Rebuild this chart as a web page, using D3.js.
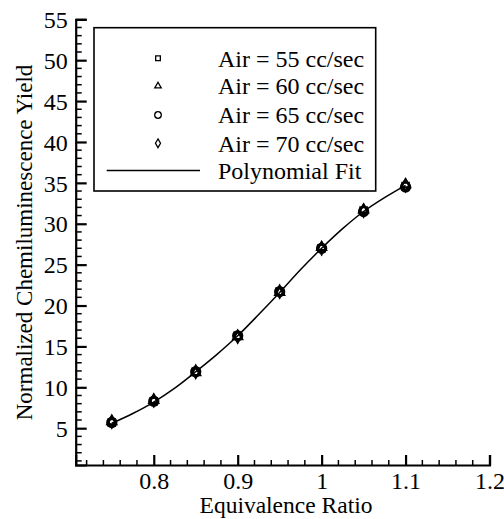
<!DOCTYPE html>
<html>
<head>
<meta charset="utf-8">
<script src="https://cdn.jsdelivr.net/npm/d3@7"></script>
<style>
  body { margin: 0; background: #fff; }
  svg { display: block; }
  text { font-family: "Liberation Serif", "Times New Roman", serif; fill: #000; }
</style>
</head>
<body>
<div id="chart"></div>
<script>
// Equivalence ratio at which yields were measured
const phi = [0.75, 0.8, 0.85, 0.9, 0.95, 1.0, 1.05, 1.1];

// Normalized chemiluminescence yield, one array per air flow
const air55 = [5.7, 8.3, 11.9, 16.3, 21.7, 27.0, 31.6, 34.6];
const air60 = [5.8, 8.4, 11.8, 16.2, 21.6, 27.1, 31.7, 34.8];
const air65 = [5.7, 8.3, 11.9, 16.3, 21.7, 27.0, 31.5, 34.5];
const air70 = [5.8, 8.4, 11.9, 16.2, 21.7, 27.0, 31.6, 34.7];

// Polynomial fit
const fitX = [0.75, 0.775, 0.8, 0.825, 0.85, 0.875, 0.9, 0.925, 0.95, 0.975, 1.0, 1.025, 1.05, 1.075, 1.1];
const fitY = [5.6, 6.8, 8.2, 9.9, 11.9, 14.0, 16.3, 18.9, 21.6, 24.4, 27.0, 29.4, 31.5, 33.2, 34.7];

const xTicks = [0.8, 0.9, 1.0, 1.1, 1.2];
const yTicks = [5, 10, 15, 20, 25, 30, 35, 40, 45, 50, 55];

const seriesNames = ['Air = 55 cc/sec', 'Air = 60 cc/sec', 'Air = 65 cc/sec', 'Air = 70 cc/sec'];
const seriesValues = [air55, air60, air65, air70];

(function () {
    const seriesSymbols = [d3.symbolSquare, d3.symbolTriangle, d3.symbolCircle, d3.symbolDiamond];
    const symbolSizes = [22, 18, 34, 22];

    const width = 504, height = 519;
    const mLeft = 75.7, mRight = 489.5, mTop = 19.3, mBottom = 465;

    const svg = d3.select('#chart').append('svg')
        .attr('width', width)
        .attr('height', height);

    const x = d3.scaleLinear().domain([0.707, 1.2]).range([mLeft, mRight]);
    const y = d3.scaleLinear().domain([0.5, 55]).range([mBottom, mTop]);

    // Minor ticks (inward)
    const xMinor = d3.range(0.72, 1.2001, 0.02).filter(v => !xTicks.some(t => Math.abs(t - v) < 1e-6));
    const yMinor = d3.range(1, 55.001, 1).filter(v => v % 5 !== 0);

    svg.append('g').selectAll('line').data(xMinor).join('line')
        .attr('x1', d => x(d)).attr('x2', d => x(d))
        .attr('y1', mBottom).attr('y2', mBottom - 5)
        .attr('stroke', '#000').attr('stroke-width', 1.5);

    svg.append('g').selectAll('line').data(yMinor).join('line')
        .attr('y1', d => y(d)).attr('y2', d => y(d))
        .attr('x1', mLeft).attr('x2', mLeft + 6)
        .attr('stroke', '#000').attr('stroke-width', 1.5);

    // Major axes
    const xAxis = svg.append('g')
        .attr('transform', `translate(0,${mBottom})`)
        .call(d3.axisBottom(x).tickValues(xTicks).tickSize(-10).tickPadding(7)
            .tickFormat(d => String(+d.toFixed(1))));
    const yAxis = svg.append('g')
        .attr('transform', `translate(${mLeft},0)`)
        .call(d3.axisLeft(y).tickValues(yTicks).tickSize(-11).tickPadding(8));

    [xAxis, yAxis].forEach(a => {
        a.attr('font-family', null);
        a.select('.domain').attr('stroke-width', 2.2);
        a.selectAll('.tick line').attr('stroke-width', 2.2);
        a.selectAll('.tick text').attr('font-size', 24);
    });
    yAxis.selectAll('.tick text').attr('dy', '0.34em');

    // Axis titles
    svg.append('text')
        .attr('x', 286)
        .attr('y', 513)
        .attr('text-anchor', 'middle')
        .attr('font-size', 23.5)
        .text('Equivalence Ratio');

    svg.append('text')
        .attr('transform', `translate(32,242.5) rotate(-90)`)
        .attr('text-anchor', 'middle')
        .attr('font-size', 23)
        .text('Normalized Chemiluminescence Yield');

    // Fit curve
    const fitPts = fitX.map((v, i) => [v, fitY[i]]);
    svg.append('path')
        .datum(fitPts)
        .attr('fill', 'none')
        .attr('stroke', '#000')
        .attr('stroke-width', 1.5)
        .attr('d', d3.line().x(d => x(d[0])).y(d => y(d[1])).curve(d3.curveMonotoneX));

    // Data markers
    seriesValues.forEach((vals, s) => {
        svg.append('g').selectAll('path').data(vals).join('path')
            .attr('transform', (d, i) => `translate(${x(phi[i])},${y(d)})`)
            .attr('d', d3.symbol().type(seriesSymbols[s]).size(symbolSizes[s] * 2))
            .attr('fill', 'none')
            .attr('stroke', '#000')
            .attr('stroke-width', 2);
    });

    // Legend
    const legend = svg.append('g');
    legend.append('rect')
        .attr('x', 94).attr('y', 27.7)
        .attr('width', 281.7).attr('height', 163.3)
        .attr('fill', '#fff')
        .attr('stroke', '#000')
        .attr('stroke-width', 1.6);

    const rowY = [58.3, 86, 115, 143.3, 170.5];
    seriesNames.forEach((name, s) => {
        legend.append('path')
            .attr('transform', `translate(158,${rowY[s]})`)
            .attr('d', d3.symbol().type(seriesSymbols[s]).size(symbolSizes[s]))
            .attr('fill', 'none')
            .attr('stroke', '#000')
            .attr('stroke-width', 1.3);
        legend.append('text')
            .attr('x', 218).attr('y', rowY[s])
            .attr('dy', '0.35em')
            .attr('font-size', 24)
            .text(name);
    });
    legend.append('line')
        .attr('x1', 106.7).attr('x2', 200)
        .attr('y1', rowY[4]).attr('y2', rowY[4])
        .attr('stroke', '#000').attr('stroke-width', 1.5);
    legend.append('text')
        .attr('x', 218).attr('y', rowY[4])
        .attr('dy', '0.35em')
        .attr('font-size', 24)
        .text('Polynomial Fit');
})();
</script>
</body>
</html>
